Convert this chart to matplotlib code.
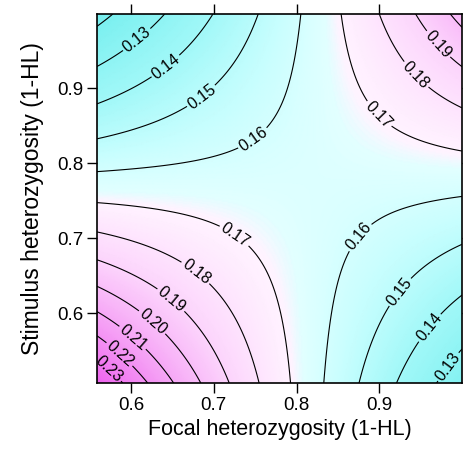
import numpy as np
import matplotlib
matplotlib.use("Agg")
import matplotlib.pyplot as plt
from matplotlib.colors import LinearSegmentedColormap

plt.rcParams['font.family'] = ['Liberation Sans', 'DejaVu Sans']

# Contour levels shown in the chart
levels = [0.12, 0.13, 0.14, 0.15, 0.16, 0.17, 0.18, 0.19, 0.20, 0.21, 0.22, 0.23]

left_x = 0.5588
left_levels = [0.12, 0.13, 0.14, 0.15, 0.16, 0.17, 0.18, 0.19, 0.20, 0.21, 0.22, 0.23]
left_y = [0.9844, 0.9288, 0.8804, 0.8337, 0.7897, 0.7488, 0.7088, 0.671, 0.635, 0.600, 0.565, 0.547]

bottom_y = 0.507
bottom_levels = [0.23, 0.22, 0.21, 0.20, 0.19, 0.18, 0.17, 0.16, 0.15, 0.14, 0.13]
bottom_x = [0.5903, 0.6145, 0.6505, 0.6835, 0.7199, 0.7562, 0.7925, 0.8349, 0.8772, 0.9217, 0.9701]

right_x = 1.0
right_levels = [0.13, 0.14, 0.15, 0.16, 0.17, 0.18, 0.19, 0.20]
right_y = [0.560, 0.6221, 0.6911, 0.755, 0.8155, 0.8733, 0.9244, 0.982]

top_y = 0.999
top_levels = [0.12, 0.13, 0.14, 0.15, 0.16, 0.17, 0.18, 0.19, 0.20]
top_x = [0.5806, 0.6424, 0.7005, 0.7521, 0.8046, 0.8530, 0.8994, 0.9438, 0.9862]

inner_levels = [0.16, 0.16, 0.16, 0.16, 0.17, 0.17, 0.17, 0.17,
                0.16, 0.16, 0.16, 0.16, 0.17, 0.17]
inner_x = [0.6835, 0.7235, 0.7646, 0.7840, 0.6835, 0.7235, 0.7562, 0.7768,
           0.8470, 0.8615, 0.8930, 0.9257, 0.8893, 0.9257]
inner_y = [0.8031, 0.8177, 0.8417, 0.8844, 0.7271, 0.7138, 0.6751, 0.6177,
           0.6177, 0.6937, 0.7244, 0.7404, 0.8844, 0.8484]

# Contour label positions (as in the reference)
label_pos = [(0.6048, 0.9677), (0.6387, 0.9337), (0.681, 0.895), (0.744, 0.838),
             (0.9075, 0.874), (0.950, 0.924), (0.9745, 0.962),
             (0.7295, 0.711), (0.6835, 0.662), (0.653, 0.624), (0.631, 0.595),
             (0.607, 0.574), (0.589, 0.549), (0.577, 0.531),
             (0.869, 0.708), (0.9196, 0.633), (0.9525, 0.588), (0.978, 0.533)]

xlim = (0.5588, 1.0)
ylim = (0.507, 0.999)
xticks = [0.6, 0.7, 0.8, 0.9]
yticks = [0.6, 0.7, 0.8, 0.9]

# ---- build the smooth surface through the read points (least squares) ----
px = np.concatenate([np.full(len(left_y), left_x), bottom_x, np.full(len(right_y), right_x),
                     top_x, inner_x])
py = np.concatenate([left_y, np.full(len(bottom_x), bottom_y), right_y,
                     np.full(len(top_x), top_y), inner_y])
pz = np.concatenate([left_levels, bottom_levels, right_levels, top_levels, inner_levels])


def design(x, y):
    return np.stack([np.ones_like(x), x, y, x * y, x * x, y * y], axis=-1)


coef, *_ = np.linalg.lstsq(design(px, py), np.log(pz), rcond=None)

gx = np.linspace(xlim[0], xlim[1], 300)
gy = np.linspace(ylim[0], ylim[1], 300)
GX, GY = np.meshgrid(gx, gy)
GZ = np.exp(design(GX, GY) @ coef)

# ---- colours ----
vmin, vmax = 0.115, 0.24
anchors = [(0.115, (115, 238, 238)), (0.14, (162, 248, 248)), (0.155, (200, 254, 254)),
           (0.166, (226, 255, 255)), (0.169, (255, 244, 255)), (0.19, (252, 212, 252)),
           (0.21, (246, 168, 246)), (0.24, (238, 100, 238))]
cmap = LinearSegmentedColormap.from_list(
    "cm", [((z - vmin) / (vmax - vmin), tuple(c / 255 for c in rgb)) for z, rgb in anchors])

fig = plt.figure(figsize=(4.63, 4.51), dpi=100)
ax = fig.add_axes([97 / 463, 1 - 383 / 451, 365 / 463, 369 / 451])
ax.pcolormesh(GX, GY, GZ, cmap=cmap, vmin=vmin, vmax=vmax, shading='gouraud', rasterized=True)
cs = ax.contour(GX, GY, GZ, levels=levels, colors='black', linewidths=0.8)
ax.clabel(cs, fmt='%.2f', fontsize=11.5, inline=True, inline_spacing=2, manual=label_pos)

ax.set_xlim(*xlim)
ax.set_ylim(*ylim)
ax.set_xticks(xticks)
ax.set_yticks(yticks)
ax.set_xticklabels([f"{t:.1f}" for t in xticks])
ax.set_yticklabels([f"{t:.1f}" for t in yticks])
ax.tick_params(direction='out', length=7, width=1.0, labelsize=13.5, top=True, right=True,
               color='black', pad=3)
for s in ax.spines.values():
    s.set_linewidth(1.2)
ax.set_xlabel("Focal heterozygosity (1-HL)", fontsize=15.5, labelpad=4)
ax.set_ylabel("Stimulus heterozygosity (1-HL)", fontsize=16.5, labelpad=9)

fig.savefig("out.png", dpi=100)
